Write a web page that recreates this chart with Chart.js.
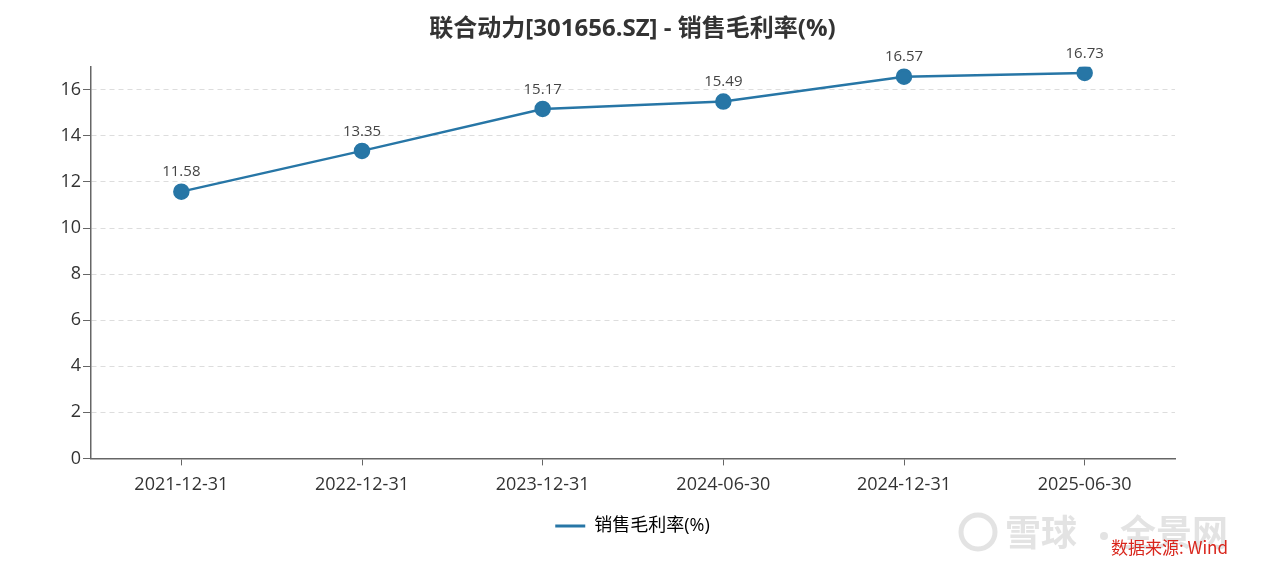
<!DOCTYPE html>
<html>
<head>
<meta charset="utf-8">
<script src="https://cdn.jsdelivr.net/npm/chart.js@4/dist/chart.umd.min.js"></script>
<style>
  html, body { margin: 0; padding: 0; background: #fff; }
  #wrap { width: 1265px; height: 573px; position: relative; }
</style>
</head>
<body>
<div id="wrap"><canvas id="c"></canvas></div>
<script>
const categories = ['2021-12-31', '2022-12-31', '2023-12-31', '2024-06-30', '2024-12-31', '2025-06-30'];
const grossMargin = [11.58, 13.35, 15.17, 15.49, 16.57, 16.73];
const yTicks = [0, 2, 4, 6, 8, 10, 12, 14, 16];

const font = '"Open Sans", "Noto Sans CJK SC", sans-serif';
const lineColor = '#2776a6';

// value labels above each point
const pointLabels = {
  id: 'pointLabels',
  afterDatasetsDraw(chart) {
    const ctx = chart.ctx;
    const meta = chart.getDatasetMeta(0);
    ctx.save();
    ctx.font = '15px ' + font;
    ctx.fillStyle = '#444';
    ctx.textAlign = 'center';
    ctx.textBaseline = 'bottom';
    meta.data.forEach((pt, i) => {
      ctx.fillText(grossMargin[i].toFixed(2), pt.x, pt.y - 12);
    });
    ctx.restore();
  }
};

// watermark + source note
const footer = {
  id: 'footer',
  afterDraw(chart) {
    const ctx = chart.ctx;
    ctx.save();
    ctx.fillStyle = 'rgba(200,200,200,0.5)';
    ctx.font = 'bold 36px "Noto Sans CJK SC", sans-serif';
    ctx.textBaseline = 'middle';
    ctx.fillText('雪球', 1005, 532);
    ctx.fillText('全景网', 1120, 532);
    ctx.beginPath();
    ctx.arc(1104, 536, 4, 0, Math.PI * 2);
    ctx.fill();
    ctx.strokeStyle = 'rgba(200,200,200,0.5)';
    ctx.lineWidth = 5;
    ctx.beginPath();
    ctx.arc(978, 532, 17, 0, Math.PI * 2);
    ctx.stroke();
    ctx.fillStyle = '#d9261c';
    ctx.font = '17px "Noto Sans CJK SC", sans-serif';
    ctx.textAlign = 'right';
    ctx.fillText('数据来源: Wind', 1228, 548);
    ctx.restore();
  }
};

new Chart(document.getElementById('c'), {
  type: 'line',
  data: {
    labels: categories,
    datasets: [{
      label: '销售毛利率(%)',
      data: grossMargin,
      borderColor: lineColor,
      backgroundColor: lineColor,
      pointBackgroundColor: lineColor,
      pointBorderColor: lineColor,
      pointRadius: 7,
      pointHoverRadius: 7,
      borderWidth: 2.5,
      tension: 0
    }]
  },
  options: {
    responsive: true,
    maintainAspectRatio: false,
    animation: false,
    layout: { padding: { left: 0, right: 0, top: 4, bottom: 28 } },
    plugins: {
      title: {
        display: true,
        text: '联合动力[301656.SZ] - 销售毛利率(%)',
        color: '#333',
        font: { family: font, size: 24, weight: 'bold' },
        padding: { top: 11, bottom: 23 }
      },
      legend: {
        position: 'bottom',
        labels: {
          color: '#333',
          font: { family: font, size: 18 },
          boxWidth: 30,
          boxHeight: 3,
          padding: 12,
          generateLabels(chart) {
            return [{
              text: '销售毛利率(%)',
              fillStyle: lineColor,
              strokeStyle: lineColor,
              lineWidth: 0,
              datasetIndex: 0
            }];
          }
        }
      },
      tooltip: { enabled: false }
    },
    scales: {
      x: {
        offset: true,
        grid: {
          display: true,
          drawOnChartArea: false,
          drawTicks: true,
          tickLength: 7,
          color: '#666',
          offset: false
        },
        border: { color: '#666', width: 1.5 },
        ticks: { color: '#333', font: { family: font, size: 18 }, padding: 9 }
      },
      y: {
        min: 0,
        max: 17,
        afterBuildTicks(scale) {
          scale.ticks = yTicks.map(v => ({ value: v }));
        },
        afterFit(scale) { scale.width = 91; },
        grid: {
          color: '#ddd',
          tickColor: '#666',
          tickLength: 8,
          lineWidth: 1
        },
        border: { color: '#666', width: 1.5, dash: [5, 4] },
        ticks: { color: '#333', font: { family: font, size: 18 }, padding: 2 }
      },
      // empty right-side spacer so title and legend stay centred on the page
      yRight: {
        position: 'right',
        min: 0,
        max: 17,
        afterFit(scale) { scale.width = 90; },
        grid: { display: false, drawTicks: false },
        border: { display: false },
        ticks: { display: false }
      }
    }
  },
  plugins: [pointLabels, footer]
});
</script>
</body>
</html>
